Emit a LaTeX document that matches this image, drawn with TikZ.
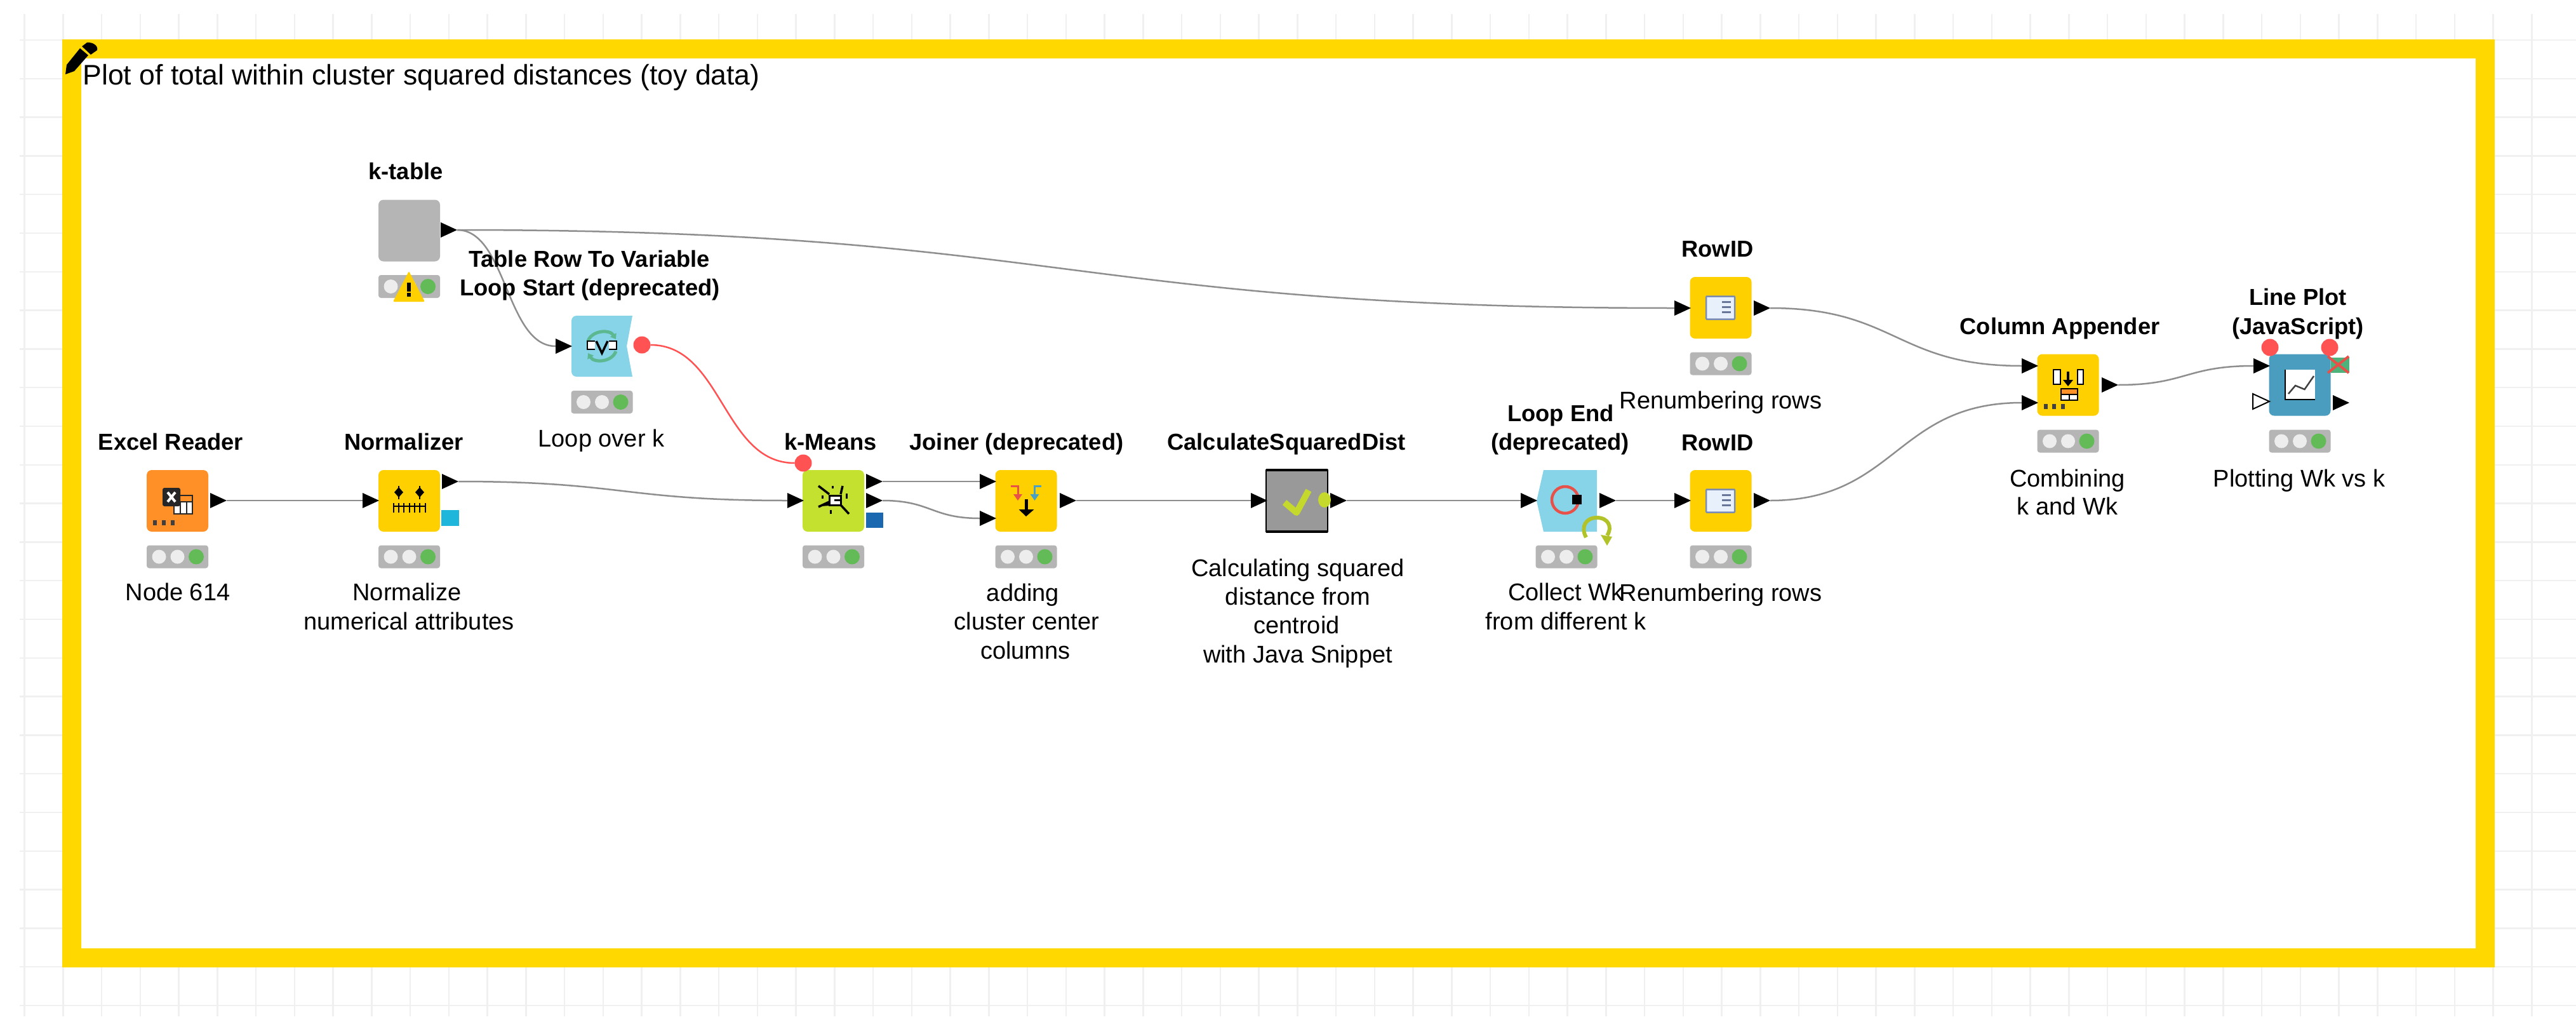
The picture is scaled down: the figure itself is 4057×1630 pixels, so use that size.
\documentclass[tikz,border=0pt]{standalone}
\usepackage{fontspec}
\setmainfont{Liberation Sans}
\usetikzlibrary{shapes.geometric,arrows.meta}
\definecolor{kgold}{HTML}{FFD800}
\definecolor{kgrid}{HTML}{F0F0F0}
\definecolor{kwire}{HTML}{8E8E8E}
\definecolor{kflow}{HTML}{FF5252}
\definecolor{kmanip}{HTML}{FFD000}
\definecolor{kreader}{HTML}{FF9028}
\definecolor{klearn}{HTML}{C5E12F}
\definecolor{kloop}{HTML}{87D4E8}
\definecolor{kview}{HTML}{4A9DBF}
\definecolor{kgray}{HTML}{B5B5B5}
\definecolor{kgreen}{HTML}{63BB58}
\definecolor{kcheck}{HTML}{C5D92D}
\definecolor{kcycle}{HTML}{5CB890}
\definecolor{kred}{HTML}{E8504A}
\definecolor{kblue}{HTML}{4A9FC4}
\definecolor{kpage}{HTML}{E8F0FB}
\definecolor{kpageline}{HTML}{7A8CB4}
\definecolor{kmodcyan}{HTML}{1FB6DC}
\definecolor{kmodblue}{HTML}{1A69B0}
\definecolor{kviewgreen}{HTML}{4DB37A}
\tikzset{
  kbox/.style={rectangle, rounded corners=8pt, minimum width=97pt, minimum height=97pt, inner sep=0pt, outer sep=0pt},
  kport/.style={isosceles triangle, isosceles triangle stretches, minimum width=24pt, minimum height=26pt, inner sep=0pt, outer sep=0pt, fill=black, anchor=west},
  varport/.style={circle, minimum size=27pt, inner sep=0pt, outer sep=0pt, fill=kflow},
  wire/.style={draw=kwire, line width=2.5pt},
  varwire/.style={draw=kflow, line width=2.5pt},
  ktitle/.style={font=\fontsize{36.3}{46}\selectfont\bfseries, align=center, anchor=base},
  kcaption/.style={font=\fontsize{38}{46}\selectfont, align=center, anchor=base}
}
\begin{document}
\begin{tikzpicture}[x=1pt, y=-1pt]
    \useasboundingbox (0,0) rectangle (4057,1630);

    % --- Canvas grid ---
    \foreach \k in {0,...,65}
      \draw[kgrid, line width=2.5pt] ({38.5+60.75*\k},22) -- ({38.5+60.75*\k},1600);
    \foreach \k in {0,...,25}
      \draw[kgrid, line width=2.5pt] (31,{63+60.8*\k}) -- (4057,{63+60.8*\k});

    % --- Annotation frame and pencil ---
    \draw[kgold, line width=30pt, fill=white] (112.5,77) rectangle (3913.5,1508);
    \fill[black] (103,117) -- (105,102) -- (126,76) -- (139,87) -- (117,112) -- cycle;
    \fill[black] (129,73) -- (137,67) .. controls (146,66) and (155,72) .. (153,79) -- (143,86) -- cycle;

    % --- Nodes ---
    \node[kbox, fill=kgray] (ktable) at (644.5,363) {};
    \node[kbox, fill=kreader] (excel) at (279.5,788.5) {};
    \node[kbox, fill=kmanip] (normalizer) at (644.5,788.5) {};
    \node[kbox, fill=klearn] (kmeans) at (1312.5,788.5) {};
    \node[kbox, fill=kmanip] (joiner) at (1616,788.5) {};
    \node[kbox, fill=black!40, draw=black, line width=2pt, rounded corners=0pt] (calcdist) at (2042,788.5) {};
    \node[kbox, fill=kmanip] (rowida) at (2710,484.5) {};
    \node[kbox, fill=kmanip] (rowidb) at (2710,788.5) {};
    \node[kbox, fill=kmanip] (colappend) at (3257,606) {};
    \node[kbox, fill=kview] (lineplot) at (3622,606) {};
    \draw[black, line width=4pt] (calcdist.north west) -- (calcdist.north east) (calcdist.south west) -- (calcdist.south east);

    % loop nodes have bent sides
    \fill[kloop] (996,497) -- (987,545) -- (996,593) [rounded corners=8pt] -- (900,593) -- (900,497) [sharp corners] -- cycle;
    \fill[kloop] (2515,740) -- (2515,837) -- (2431,837) -- (2420,788.5) -- (2431,740) -- cycle;

    % --- Status lights ---
    \foreach \lx/\ly in {644.5/451, 948/633, 279.5/876.5, 644.5/876.5, 1312.5/876.5, 1616/876.5, 2467/876.5, 2710/572.5, 2710/876.5, 3257/694.5, 3622/694.5} {
      \fill[kgray, rounded corners=4pt] (\lx-48.5,\ly-18) rectangle (\lx+48.5,\ly+18);
      \fill[black!7] (\lx-29,\ly) circle[radius=11];
      \fill[black!7] (\lx,\ly) circle[radius=11];
      \fill[kgreen] (\lx+29.5,\ly) circle[radius=12];
    }

    % warning on k-table
    \fill[kmanip, rounded corners=2pt, line join=round] (644,427) -- (669,475) -- (619,475) -- cycle;
    \fill[black] (641,445) rectangle (647,459);
    \fill[black] (641,461) rectangle (647,467);

    % --- Ports ---
    \node[kport] (ktableout) at (694,362) {};
    \node[kport] (loopin) at (875,545) {};
    \node[varport] (loopvar) at (1011,543) {};
    \node[kport] (excelout) at (331,788) {};
    \node[kport] (normin) at (571,788) {};
    \node[kport] (normout) at (696,758) {};
    \node[kport] (kmeansin) at (1240,788) {};
    \node[varport] (kmeansvar) at (1265,729) {};
    \node[kport] (kmeansouta) at (1364,758) {};
    \node[kport] (kmeansoutb) at (1364,788) {};
    \node[kport] (joinerina) at (1543,758) {};
    \node[kport] (joinerinb) at (1543,816) {};
    \node[kport] (joinerout) at (1669,788) {};
    \node[kport] (calcin) at (1970,788) {};
    \node[kport] (calcout) at (2095,788) {};
    \node[kport] (loopendin) at (2395,788) {};
    \node[kport] (loopendout) at (2519,788) {};
    \node[kport] (rowidain) at (2637,485) {};
    \node[kport] (rowidaout) at (2762,485) {};
    \node[kport] (rowidbin) at (2637,788) {};
    \node[kport] (rowidbout) at (2762,788) {};
    \node[kport] (colappendina) at (3184,576) {};
    \node[kport] (colappendinb) at (3184,634) {};
    \node[kport] (colappendout) at (3310,606) {};
    \node[kport] (plotin) at (3549,576) {};
    \node[kport, fill=white, draw=black, line width=2pt] (plotimg) at (3548,632) {};
    \node[kport] (plotout) at (3674,634) {};
    \node[varport] (plotvara) at (3575,547) {};
    \node[varport] (plotvarb) at (3669,547) {};

    % flow ports
    \fill[kmodcyan] (695,803) rectangle (723,828);
    \fill[kmodblue] (1364,807) rectangle (1391,831);
    \fill[kcheck] (2086,787) circle[x radius=10, y radius=12];
    \fill[kviewgreen] (3671,563) rectangle (3700,587);
    \draw[kred, line width=4pt] (3666,561) -- (3699,587);
    \draw[kred, line width=4pt] (3699,561) -- (3666,587);

    % --- Connectors ---
    \draw[wire] (excelout.east) -- (normin.west);
    \draw[wire] (normout.east) .. controls +(259,0) and +(-259,0) .. (kmeansin.west);
    \draw[wire] (ktableout.east) .. controls +(958,0) and +(-958,0) .. (rowidain.west);
    \draw[wire] (ktableout.east) .. controls +(78,0) and +(-78,0) .. (loopin.west);
    \draw[varwire] (loopvar.east) .. controls +(113,0) and +(-113,0) .. (kmeansvar.west);
    \draw[wire] (kmeansouta.east) -- (joinerina.west);
    \draw[wire] (kmeansoutb.east) .. controls +(76,0) and +(-76,0) .. (joinerinb.west);
    \draw[wire] (joinerout.east) -- (calcin.west);
    \draw[wire] (calcout.east) -- (loopendin.west);
    \draw[wire] (loopendout.east) -- (rowidbin.west);
    \draw[wire] (rowidaout.east) .. controls +(198,0) and +(-198,0) .. (colappendina.west);
    \draw[wire] (rowidbout.east) .. controls +(198,0) and +(-198,0) .. (colappendinb.west);
    \draw[wire] (colappendout.east) .. controls +(106,0) and +(-106,0) .. (plotin.west);

    % --- Icons ---
    % Excel Reader
    \draw[black!85, line width=2.5pt, fill=white] (274,780) rectangle (303,809);
    \draw[black!85, line width=2.5pt] (284,780) -- (284,809) (294,780) -- (294,809) (274,790) -- (303,790);
    \fill[kreader] (275,781) rectangle (302,789);
    \fill[black!85, rounded corners=3pt] (256,768) rectangle (284,797);
    \draw[white, line width=4pt] (264,775) -- (276,790) (276,775) -- (264,790);
    \foreach \dx in {241,255,269} \fill[black!75] (\dx,819) rectangle (\dx+6,827);

    % Normalizer
    \draw[black, line width=2pt] (620,797) -- (670,797);
    \foreach \tx in {620,628,636,645,653,661,670} \draw[black, line width=2pt] (\tx,792) -- (\tx,807);
    \foreach \tx in {628,661} {
      \draw[black, line width=2pt] (\tx,765) -- (\tx,786);
      \fill[black] (\tx-7,775) -- (\tx,767) -- (\tx+7,775) -- (\tx,783) -- cycle;
    }

    % k-Means
    \draw[black, line width=3.5pt] (1289,765) -- (1306,778) (1327,765) -- (1324,778) (1289,798) -- (1306,790) (1337,809) -- (1324,795);
    \draw[black, line width=3pt] (1311,765) -- (1311,769) (1295,780) -- (1295,785) (1333,777) -- (1333,785) (1308,803) -- (1308,809);
    \draw[black, line width=3pt, fill=white] (1306,780) rectangle (1324,795);
    \fill[black] (1314,786) rectangle (1323,789);
    \fill[black] (1293,797) -- (1306,789) -- (1306,796) -- cycle;

    % Joiner
    \draw[kred, line width=3pt] (1592,765) -- (1603,765) -- (1603,780);
    \fill[kred] (1596,778) -- (1610,778) -- (1603,788) -- cycle;
    \draw[kblue, line width=3pt] (1640,765) -- (1629.5,765) -- (1629.5,780);
    \fill[kblue] (1622.5,778) -- (1636.5,778) -- (1629.5,788) -- cycle;
    \draw[black, line width=5pt] (1616,786) -- (1616,804);
    \fill[black] (1604.5,802) -- (1628.5,802) -- (1616,813) -- cycle;

    % CalculateSquaredDist
    \draw[kcheck, line width=10pt, line join=round] (2023,791) -- (2042,807) -- (2061,772);

    % Loop start
    \draw[kcycle, line width=5pt, -{Triangle[length=8pt,width=11pt]}] (926,537) .. controls (932,520) and (960,518) .. (970,534);
    \draw[kcycle, line width=5pt, -{Triangle[length=8pt,width=11pt]}] (970,553) .. controls (964,570) and (936,572) .. (926,556);
    \draw[black, line width=2.5pt, fill=white] (937,537) -- (925,537) -- (925,550) -- (937,550);
    \draw[black, line width=2.5pt, fill=white] (959,537) -- (971,537) -- (971,550) -- (959,550);
    \draw[black, line width=3.5pt] (939,537) -- (948,556) -- (957,537);

    % Loop end
    \draw[kred, line width=4.5pt] (2465,787) ellipse[x radius=21, y radius=21];
    \fill[black] (2476,779) rectangle (2491,794);
    \draw[kcheck!90!black, line width=6pt] (2498,846) .. controls (2489,830) and (2497,815) .. (2515,815) .. controls (2533,815) and (2540,830) .. (2531,843);
    \fill[kcheck!90!black] (2521,842) -- (2539,845) -- (2531,859) -- cycle;

    % RowID
    \foreach \ry in {484.5,788.5} {
      \draw[kpageline, line width=2.5pt, fill=kpage, rounded corners=1pt] (2687,\ry-18) rectangle (2732,\ry+18);
      \foreach \off in {-9,-1,7}
        \draw[kpageline!85!black, line width=2.5pt] (2712,\ry+\off) -- (2726,\ry+\off);
    }

    % Column Appender
    \draw[black, line width=2.5pt, fill=white] (3234,582) rectangle (3245,605);
    \draw[black, line width=2.5pt, fill=white] (3272,582) rectangle (3281,605);
    \draw[black, line width=4pt] (3257,585) -- (3257,600);
    \fill[black] (3249,598) -- (3265,598) -- (3257,608) -- cycle;
    \draw[black, line width=2pt, fill=white] (3246,612) rectangle (3272,630);
    \fill[kreader] (3247,613) rectangle (3271,621);
    \draw[black, line width=2pt] (3246,621) -- (3272,621) (3259,621) -- (3259,630);
    \foreach \dx in {3219,3232,3246} \fill[black!75] (\dx,636) rectangle (\dx+6,644);

    % Line Plot
    \fill[white] (3599,582) rectangle (3646,629);
    \draw[black, line width=2.5pt] (3599,582) -- (3599,629) -- (3646,629);
    \draw[black!75, line width=2.5pt] (3604,620) -- (3615,607) -- (3629.5,613) -- (3644,592);

    % --- Labels ---
    \node[font=\fontsize{44.5}{50}\selectfont, anchor=base west] (annotext) at (127,133) {Plot of total within cluster squared distances (toy data)};

    \node[ktitle] (ktabletitle) at (639,282) {k-table};
    \node[ktitle] (looptitlea) at (928,420) {Table Row To Variable};
    \node[ktitle] (looptitleb) at (929,465) {Loop Start (deprecated)};
    \node[ktitle] (exceltitle) at (269,708) {Excel Reader};
    \node[ktitle] (normtitle) at (636,708) {Normalizer};
    \node[ktitle] (kmeanstitle) at (1308,708) {k-Means};
    \node[ktitle] (joinertitle) at (1601,708) {Joiner (deprecated)};
    \node[ktitle] (calctitle) at (2026,708) {CalculateSquaredDist};
    \node[ktitle] (endtitlea) at (2458,663) {Loop End};
    \node[ktitle] (endtitleb) at (2457,708) {(deprecated)};
    \node[ktitle] (rowidatitle) at (2705,404) {RowID};
    \node[ktitle] (rowidbtitle) at (2705,709) {RowID};
    \node[ktitle] (colappendtitle) at (3244,526) {Column Appender};
    \node[ktitle] (plottitlea) at (3619,480) {Line Plot};
    \node[ktitle] (plottitleb) at (3619,526) {(JavaScript)};

    \node[kcaption] (loopcap) at (947,703) {Loop over k};
    \node[kcaption] (excelcap) at (280,945) {Node 614};
    \node[kcaption] (normcapa) at (641,945) {Normalize};
    \node[kcaption] (normcapb) at (644,991) {numerical attributes};
    \node[kcaption] (joincapa) at (1611,946) {adding};
    \node[kcaption] (joincapb) at (1617,991) {cluster center};
    \node[kcaption] (joincapc) at (1615,1037) {columns};
    \node[kcaption] (calccapa) at (2044,907) {Calculating squared};
    \node[kcaption] (calccapb) at (2044,952) {distance from};
    \node[kcaption] (calccapc) at (2042,997) {centroid};
    \node[kcaption] (calccapd) at (2044,1043) {with Java Snippet};
    \node[kcaption] (endcapa) at (2466,945) {Collect Wk};
    \node[kcaption] (endcapb) at (2466,991) {from different k};
    \node[kcaption] (rowidacap) at (2710,643) {Renumbering rows};
    \node[kcaption] (rowidbcap) at (2710,946) {Renumbering rows};
    \node[kcaption] (colappendcapa) at (3256,766) {Combining};
    \node[kcaption] (colappendcapb) at (3256,810) {k and Wk};
    \node[kcaption] (plotcap) at (3621,766) {Plotting Wk vs k};

\end{tikzpicture}
\end{document}
